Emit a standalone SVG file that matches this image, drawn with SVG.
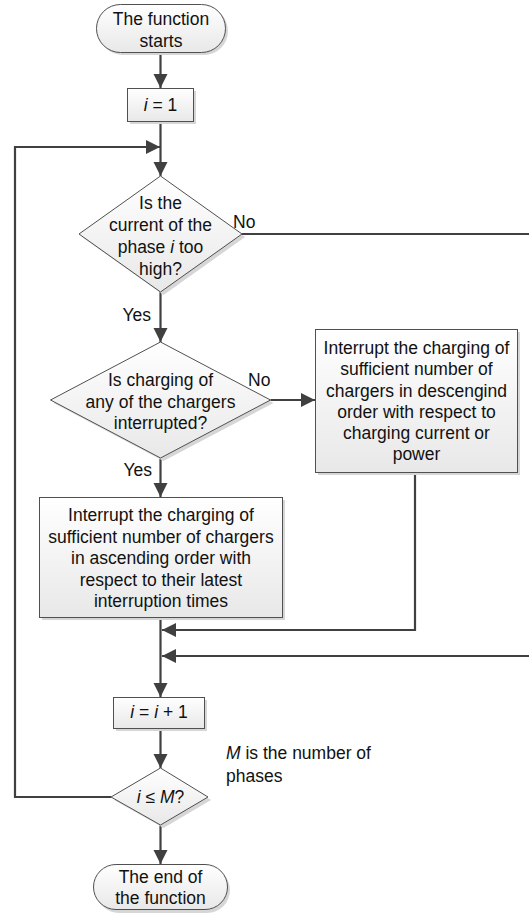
<svg xmlns="http://www.w3.org/2000/svg" width="529" height="913" viewBox="0 0 529 913">
<defs>
  <linearGradient id="g" x1="0" y1="0" x2="0" y2="1">
    <stop offset="0" stop-color="#ffffff"/>
    <stop offset="1" stop-color="#e8e8e8"/>
  </linearGradient>
  <marker id="ah" markerUnits="userSpaceOnUse" markerWidth="16" markerHeight="16" refX="14" refY="7" orient="auto">
    <path d="M0,0 L14,7 L0,14 z" fill="#404040"/>
  </marker>
</defs>
<style>
  .shape{fill:url(#g);stroke:#505050;stroke-width:1}
  .shadow{fill:#d6d6d6}
  .t{font-family:"Liberation Sans",Arial,sans-serif;font-size:17.5px;fill:#111;text-anchor:middle}
  .l{font-family:"Liberation Sans",Arial,sans-serif;font-size:17.5px;fill:#111}
  .c{fill:none;stroke:#404040;stroke-width:2.2}
  .i{font-style:italic}
</style>

<g id="connectors">
  <path class="c" d="M160.5,52 V88" marker-end="url(#ah)"/>
  <path class="c" d="M160.5,121 V176" marker-end="url(#ah)"/>
  <path class="c" d="M111,797 H15 V147 H160" marker-end="url(#ah)"/>
  <path class="c" d="M242,234 H545 V656 H162" marker-end="url(#ah)"/>
  <path class="c" d="M160.5,292 V342" marker-end="url(#ah)"/>
  <path class="c" d="M270.5,400 H315" marker-end="url(#ah)"/>
  <path class="c" d="M160.5,458 V497" marker-end="url(#ah)"/>
  <path class="c" d="M415,472 V630 H162" marker-end="url(#ah)"/>
  <path class="c" d="M160.5,617 V697" marker-end="url(#ah)"/>
  <path class="c" d="M160.5,728 V768" marker-end="url(#ah)"/>
  <path class="c" d="M160.5,825 V864" marker-end="url(#ah)"/>
</g>

<g id="start">
  <rect class="shadow" x="99" y="7" width="129" height="48" rx="24"/>
  <rect class="shape" x="96.5" y="4.5" width="129" height="48" rx="24"/>
  <text class="t" x="161" y="25">The function</text>
  <text class="t" x="161" y="47">starts</text>
</g>

<g id="init">
  <rect class="shadow" x="130" y="91" width="66" height="33"/>
  <rect class="shape" x="127.5" y="88.5" width="66" height="33"/>
  <text class="t" x="160.5" y="111"><tspan class="i">i</tspan> = 1</text>
</g>

<g id="dec1">
  <polygon class="shadow" points="163.5,179 245,237 163.5,295 82,237"/>
  <polygon class="shape" points="160.5,176 242,234 160.5,292 79,234"/>
  <text class="t" x="160.5" y="209">Is the</text>
  <text class="t" x="160.5" y="231">current of the</text>
  <text class="t" x="160.5" y="253">phase <tspan class="i">i</tspan> too</text>
  <text class="t" x="160.5" y="275">high?</text>
  <text class="l" x="233" y="228">No</text>
  <text class="l" x="151" y="321" text-anchor="end">Yes</text>
</g>

<g id="dec2">
  <polygon class="shadow" points="163.5,345 273.5,403 163.5,461 53.5,403"/>
  <polygon class="shape" points="160.5,342 270.5,400 160.5,458 50.5,400"/>
  <text class="t" x="160.5" y="386">Is charging of</text>
  <text class="t" x="160.5" y="408">any of the chargers</text>
  <text class="t" x="160.5" y="429">interrupted?</text>
  <text class="l" x="248" y="386">No</text>
  <text class="l" x="152" y="476" text-anchor="end">Yes</text>
</g>

<g id="descending">
  <rect class="shadow" x="318" y="332" width="202" height="143"/>
  <rect class="shape" x="315.5" y="329.5" width="202" height="143"/>
  <text class="t" x="416.5" y="354">Interrupt the charging of</text>
  <text class="t" x="416.5" y="375">sufficient number of</text>
  <text class="t" x="416.5" y="397">chargers in descengind</text>
  <text class="t" x="416.5" y="418">order with respect to</text>
  <text class="t" x="416.5" y="439">charging current or</text>
  <text class="t" x="416.5" y="460">power</text>
</g>

<g id="ascending">
  <rect class="shadow" x="42" y="500" width="243" height="120"/>
  <rect class="shape" x="39.5" y="497.5" width="243" height="120"/>
  <text class="t" x="161" y="521">Interrupt the charging of</text>
  <text class="t" x="161" y="543">sufficient number of chargers</text>
  <text class="t" x="161" y="564">in ascending order with</text>
  <text class="t" x="161" y="586">respect to their latest</text>
  <text class="t" x="161" y="607">interruption times</text>
</g>

<g id="increment">
  <rect class="shadow" x="116" y="700" width="91" height="31"/>
  <rect class="shape" x="113.5" y="697.5" width="91" height="31"/>
  <text class="t" x="159" y="718"><tspan class="i">i</tspan> = <tspan class="i">i</tspan> + 1</text>
</g>

<g id="dec3">
  <polygon class="shadow" points="163.5,771 211,800 163.5,828 114,800"/>
  <polygon class="shape" points="160.5,768 208,797 160.5,825 111,797"/>
  <text class="t" x="160.5" y="803"><tspan class="i">i</tspan> ≤ <tspan class="i">M</tspan>?</text>
</g>

<g id="note">
  <text class="l" x="226" y="759"><tspan class="i">M</tspan> is the number of</text>
  <text class="l" x="226" y="782">phases</text>
</g>

<g id="end">
  <rect class="shadow" x="96" y="867" width="134" height="46" rx="23"/>
  <rect class="shape" x="93.5" y="864.5" width="134" height="45" rx="22.5"/>
  <text class="t" x="160.5" y="883">The end of</text>
  <text class="t" x="160.5" y="904">the function</text>
</g>
</svg>
